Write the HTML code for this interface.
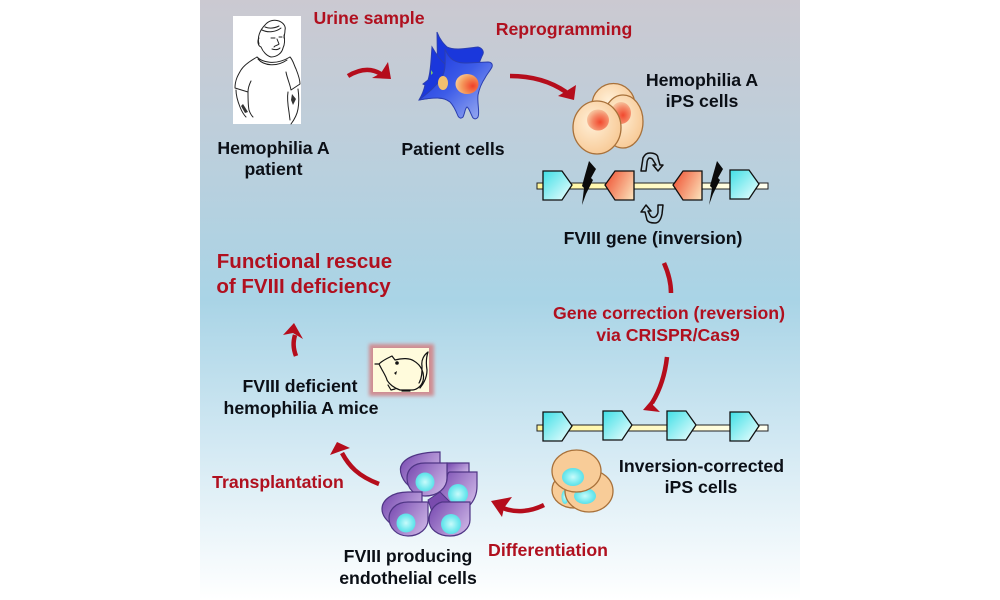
<!DOCTYPE html>
<html><head><meta charset="utf-8"><style>
html,body{margin:0;padding:0;background:#fff;width:1000px;height:600px;overflow:hidden}
svg{display:block}
text{font-family:"Liberation Sans",sans-serif;font-weight:bold;font-size:17.7px;text-anchor:middle;fill:#0b0f16}
.r{fill:#b0101f}
.a{fill:none;stroke:#b50d1c;stroke-width:4.5;stroke-linecap:butt}
.h{fill:#b50d1c}
.m{fill:none;stroke:#222;stroke-width:1;stroke-linecap:round;stroke-linejoin:round}
.g{stroke:#111;stroke-width:1.3}
.cell{stroke:#a8713a;stroke-width:1.3}
.p{stroke:#4f3585;stroke-width:1.2;fill:url(#pur)}
.u{fill:none;stroke:#111;stroke-width:1.5;stroke-linejoin:round}
</style></head><body>
<svg width="1000" height="600" viewBox="0 0 1000 600" xmlns="http://www.w3.org/2000/svg">
<defs>
<linearGradient id="bg" x1="0" y1="0" x2="0" y2="1">
<stop offset="0" stop-color="#cbc9d1"/><stop offset=".25" stop-color="#bccfdc"/><stop offset=".5" stop-color="#a9d4e6"/><stop offset=".72" stop-color="#cfe7f2"/><stop offset="1" stop-color="#ffffff"/>
</linearGradient>
<linearGradient id="cy" x1="0" y1="0" x2="1" y2="1"><stop offset="0" stop-color="#3fdfe6"/><stop offset="1" stop-color="#f2ffff"/></linearGradient>
<linearGradient id="or" x1="1" y1=".3" x2="0" y2=".8"><stop offset="0" stop-color="#f05a3a"/><stop offset="1" stop-color="#fbdcb5"/></linearGradient>
<linearGradient id="bar" x1="0" y1="0" x2="1" y2="0"><stop offset="0" stop-color="#fff59a"/><stop offset="1" stop-color="#fffff0"/></linearGradient>
<linearGradient id="blu" x1="0" y1="0" x2="1" y2="1"><stop offset="0" stop-color="#1530dd"/><stop offset=".5" stop-color="#3d5ce8"/><stop offset="1" stop-color="#a8b8f2"/></linearGradient>
<linearGradient id="pur" x1="0" y1=".2" x2="1" y2=".8"><stop offset="0" stop-color="#7c4fb3"/><stop offset="1" stop-color="#cdb6e6"/></linearGradient>
<radialGradient id="nuc" cx=".75" cy=".6" r=".8"><stop offset="0" stop-color="#f0402a"/><stop offset=".6" stop-color="#f59a5c"/><stop offset="1" stop-color="#f9cf9c"/></radialGradient>
<radialGradient id="ips" cx=".6" cy=".6" r=".6"><stop offset="0" stop-color="#f2482e"/><stop offset=".6" stop-color="#f58a68"/><stop offset="1" stop-color="#f6c09a"/></radialGradient>
<radialGradient id="cream" cx=".4" cy=".4" r=".7"><stop offset="0" stop-color="#fff0d8"/><stop offset="1" stop-color="#f7c690"/></radialGradient>
<radialGradient id="cn" cx=".5" cy=".5" r=".55"><stop offset="0" stop-color="#c8fbfb"/><stop offset=".7" stop-color="#6fe8ee"/><stop offset="1" stop-color="#58dce6"/></radialGradient>
<filter id="bl" x="-30%" y="-30%" width="160%" height="160%"><feGaussianBlur stdDeviation="1.8"/></filter>
<g id="gr"><path class="g" d="M0 0H19L29 14 19 29H0Z" fill="url(#cy)"/></g>
</defs>
<rect x="200" y="0" width="600" height="600" fill="url(#bg)"/>

<!-- patient -->
<rect x="233" y="16" width="68" height="108" fill="#fff"/>
<g class="m">
<path d="M259 44C257 37 260 30 265 25 268 21 274 19 279 21 284 23 286 27 285 30 285 34 284 36 284 38"/>
<path d="M259 38C257 41 258 46 261 47 263 52 267 56 271 57 277 57 282 53 283 48 285 44 285 40 284 35"/>
<path d="M262 30C268 33 276 32 281 28M265 27C270 29 275 28 279 26"/>
<path d="M271 38H275M279 37H282M277 39L279 44C277 46 275 45 274 47M272 49C275 50 278 50 280 48"/>
<path d="M257 57C262 62 275 66 290 57M258 59C264 66 277 67 287 60"/>
<path d="M257 57C250 61 244 65 241 70 238 75 235 80 235 88L248 92C248 88 249 85 251 81"/>
<path d="M290 57C293 60 294 65 296 69 298 74 300 79 300 84L291 90C290 84 287 78 286 72"/>
<path d="M236 90C236 96 238 102 240 107 242 112 244 115 246 117M248 92C248 98 248 105 249 110 250 113 252 116 253 117"/>
<path d="M298 89C299 96 299 103 298 109 297 115 294 120 291 124M288 92C287 98 288 106 289 112L290 120"/>
</g>
<path d="M243 104L248 112 245 113 241 106ZM292 94L296 99 293 105 291 100Z" fill="#333"/>

<text x="369" y="24" class="r">Urine sample</text>
<text x="564" y="35" class="r">Reprogramming</text>
<text x="273.500" y="154">Hemophilia A</text><text x="273.500" y="175">patient</text>
<text x="453" y="155">Patient cells</text>
<text x="702" y="86">Hemophilia A</text><text x="702" y="107">iPS cells</text>
<text x="653" y="244">FVIII gene (inversion)</text>
<text x="669" y="319" class="r">Gene correction (reversion)</text>
<text x="668" y="341" class="r">via CRISPR/Cas9</text>
<text x="701.500" y="472">Inversion-corrected</text><text x="701" y="493">iPS cells</text>
<text x="548" y="556" class="r">Differentiation</text>
<text x="278" y="488" class="r">Transplantation</text>
<text x="408" y="562">FVIII producing</text><text x="408" y="584">endothelial cells</text>
<text x="300" y="392">FVIII deficient</text><text x="301" y="414">hemophilia A mice</text>
<text x="304.500" y="268" class="r" style="font-size:20.5px">Functional rescue</text>
<text x="303.500" y="293" class="r" style="font-size:20.5px">of FVIII deficiency</text>

<!-- arrows -->
<path class="a" d="M348 76C358 70 370 67 381 74"/><path class="h" d="M391 79L372 78 381 73 388 62Z"/>
<path class="a" d="M510 76C535 76 553 83 566 92"/><path class="h" d="M574 100L558 96 568 90 576 85Z"/>
<path class="a" d="M664 263C668 272 671 282 671 293"/>
<path class="a" d="M667 357C665 375 660 390 652 403"/><path class="h" d="M643 410L660 412 653 405 655 396Z"/>
<path class="a" d="M544 505C530 512 515 513 503 508"/><path class="h" d="M491 501L502 517 504 508 512 497Z"/>
<path class="a" d="M379 484C358 476 349 466 342 453"/><path class="h" d="M337 442L330 455 341 451 350 448Z"/>
<path class="a" d="M296 356C293 348 293 342 295 335"/><path class="h" d="M294 323L283 335 293 333 303 339Z"/>

<!-- patient cells -->
<path fill="#1a37dc" stroke="#2a3eb0" d="M437 32C440 40 444 44 447 47 455 51 468 48 478 47 482 48 484 51 483 54 480 60 478 65 474 80L455 100 438 98Z"/>
<path fill="#1a37dc" stroke="#2a3eb0" d="M432 47C436 54 440 60 446 65L450 95 419 100C422 95 424 90 425 85L423 84 428 80C431 72 431 58 432 47Z"/>
<path fill="#7cc66a" d="M431 70l2 3-2 2z"/>
<path fill="url(#blu)" stroke="#2b3fb0" d="M445 49C447 54 450 58 453 60 458 63 462 63 467 63L488 62C491 62 493 64 492 67 490 71 487 74 485 78 481 84 479 90 478 95 477 103 480 112 478 117 476 120 473 119 472 116 470 112 469 108 467 107 465 108 465 113 463 117 461 119 459 118 458 116 456 111 453 105 450 102 446 99 442 98 438 98 430 98 424 99 419 100 428 93 438 85 443 75 446 68 445 58 445 49Z"/>
<ellipse cx="443" cy="83" rx="5" ry="7" fill="#f2c06f"/>
<ellipse cx="467" cy="84" rx="11.500" ry="10" fill="url(#nuc)"/>

<!-- hemophilia iPS cells -->
<circle cx="613.500" cy="105" r="21.500" fill="url(#cream)" class="cell"/>
<ellipse cx="623" cy="121.500" rx="20" ry="26.500" fill="url(#cream)" class="cell"/>
<ellipse cx="621" cy="113" rx="10" ry="11" fill="url(#ips)"/>
<ellipse cx="597" cy="127.500" rx="24" ry="26.500" fill="url(#cream)" class="cell"/>
<ellipse cx="598" cy="120" rx="11" ry="10.500" fill="url(#ips)"/>

<!-- inverted gene -->
<rect x="537" y="183" width="231" height="6" fill="url(#bar)" stroke="#222" stroke-width="1"/>
<use href="#gr" x="543" y="171"/>
<g transform="translate(634 171) scale(-1 1)"><path class="g" d="M0 0H19L29 14 19 29H0Z" fill="url(#or)"/></g>
<g transform="translate(702 171) scale(-1 1)"><path class="g" d="M0 0H19L29 14 19 29H0Z" fill="url(#or)"/></g>
<use href="#gr" x="730" y="170"/>
<path fill="#0b0b0b" d="M589 161L596 169 591 178 593 180 586 194 582 205 584 188 582 186 585 175Z"/>
<path fill="#0b0b0b" d="M717 161L723 169 718 178 720 180 713 194 709 205 712 188 710 186 713 175Z"/>
<path class="u" d="M641 171 643 158C645 154 647 153 650 153 655 153 658 155 658 158L660 165H663L658 171 653 165H656L653 160C652 158 650 158 649 158 648 159 647 161 647 163L646 171Z"/>
<path class="u" d="M663 205 662 214C661 219 659 223 655 223 651 223 648 222 647 220L645 212H641L646 205 651 211H648L650 215C651 217 653 218 655 217 657 216 658 213 658 212V205Z"/>

<!-- corrected gene -->
<rect x="537" y="425" width="231" height="6" fill="url(#bar)" stroke="#222" stroke-width="1"/>
<use href="#gr" x="543" y="412"/><use href="#gr" x="603" y="411"/><use href="#gr" x="667" y="411"/><use href="#gr" x="730" y="412"/>

<!-- corrected iPS -->
<ellipse cx="574" cy="490" rx="22" ry="18" fill="#f8cc98" class="cell"/>
<ellipse cx="565" cy="497" rx="3.500" ry="7" fill="url(#cn)"/>
<ellipse cx="589" cy="491" rx="24" ry="21" fill="#f8cc98" class="cell"/>
<ellipse cx="585" cy="496" rx="11" ry="8" fill="url(#cn)"/>
<ellipse cx="576.500" cy="471" rx="24.500" ry="21" fill="#f8cc98" class="cell"/>
<ellipse cx="573" cy="477" rx="11" ry="9" fill="url(#cn)"/>

<!-- endothelial -->
<path class="p" d="M440 452V466L412 488C402 482 398 470 402 464 408 455 424 452 440 452Z"/>
<path class="p" d="M447 463H469V474H447Z"/>
<path class="p" d="M477 472H450C447 472 447 478 447 480L436 496 448 506H469C475 500 477 493 477 486Z"/>
<circle cx="458" cy="494" r="10" fill="url(#cn)"/>
<path class="p" d="M447 463H425C413 463 407 470 407 478 407 489 415 496 425 496 438 496 447 488 447 478Z"/>
<circle cx="425" cy="482" r="9.500" fill="url(#cn)"/>
<path d="M428 500L440 492 450 502 440 504 432 512Z" fill="#7a4cae" stroke="#4f3585"/>
<path class="p" d="M422 492H408C392 492 382 500 382 509 382 516 388 522 394 526L422 515Z"/>
<path class="p" d="M428 502H408C396 502 389 510 389 518 389 528 397 536 408 536 420 536 428 528 428 520Z"/>
<circle cx="406" cy="523" r="9.500" fill="url(#cn)"/>
<path class="p" d="M470 502H442C434 504 429 512 429 520 429 529 438 536 450 536 462 536 470 528 470 520Z"/>
<circle cx="451" cy="524" r="10" fill="url(#cn)"/>

<!-- mouse -->
<rect x="369" y="344" width="65" height="52" fill="#cf8d92" filter="url(#bl)"/>
<rect x="373" y="348" width="56" height="44" fill="#fffbdc"/>
<g fill="none" stroke="#111" stroke-width="1.200" stroke-linecap="round" stroke-linejoin="round">
<path d="M379 364C383 360 388 358 392 356L395 360C402 358 410 358 414 361 421 365 425 373 423 381 421 387 416 390 412 390L400 390C394 388 389 384 387 380 386 376 383 372 379 364Z"/>
<path d="M419 383C422 378 422 372 422 366 421 360 424 355 428 352M420 388C425 382 427 376 427 370 426 364 426 358 428 352"/>
<path d="M375 364H379M388 385L391 390 395 389M402 391L410 391"/>
</g>
<circle cx="397" cy="363" r="1.800" fill="#111"/><path d="M394 373l3-2-1 4z" fill="#111"/>
</svg>
</body></html>
